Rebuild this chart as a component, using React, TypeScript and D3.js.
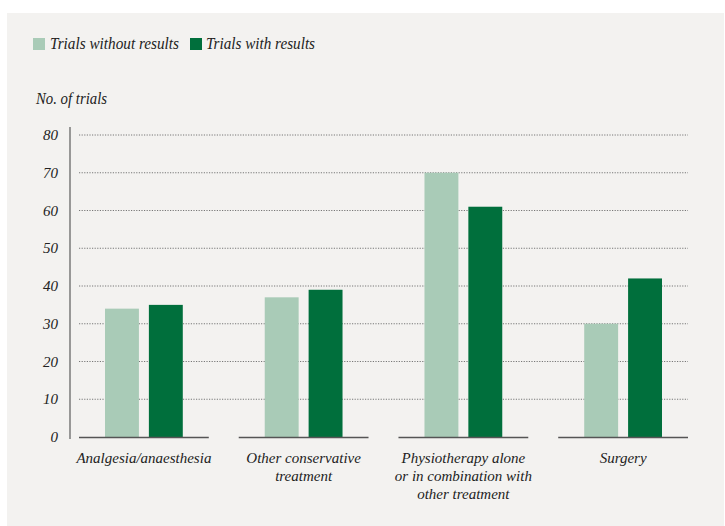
import React from "react";
import * as d3 from "d3";

const categories: string[][] = [
  ["Analgesia/anaesthesia"],
  ["Other conservative", "treatment"],
  ["Physiotherapy alone", "or in combination with", "other treatment"],
  ["Surgery"],
];
const seriesNames = ["Trials without results", "Trials with results"];
const withoutResults = [34, 37, 70, 30];
const withResults = [35, 39, 61, 42];
const yTicks = [0, 10, 20, 30, 40, 50, 60, 70, 80];
const yLabel = "No. of trials";

const COLORS = ["#a9cbb7", "#006f3c"];
const FONT = "'Liberation Serif', serif";

export default function App() {
  const W = 725, H = 526;
  const plotLeft = 79, plotRight = 688;
  const y = d3.scaleLinear().domain([0, 80]).range([437, 135]);
  const x0 = d3
    .scaleBand<number>()
    .domain(categories.map((_, i) => i))
    .range([plotLeft, plotRight])
    .paddingInner(30 / 160)
    .paddingOuter(0);
  const groupW = x0.bandwidth();
  const x1 = d3.scaleBand<number>().domain([0, 1]).range([26, groupW - 26]).paddingInner(10 / 44);
  const series = [withoutResults, withResults];

  return (
    <svg width={W} height={H} style={{ position: "absolute", left: 0, top: 0 }}>
      <rect x={7} y={13} width={717} height={H - 13} fill="#f3f2f0" />
      {/* legend */}
      <g fontFamily={FONT} fontStyle="italic" fontSize={16} fill="#222">
        <rect x={33} y={38} width={12} height={12} fill={COLORS[0]} />
        <text x={50} y={49} textLength={129} lengthAdjust="spacingAndGlyphs">{seriesNames[0]}</text>
        <rect x={190} y={38} width={12} height={12} fill={COLORS[1]} />
        <text x={206} y={49} textLength={109} lengthAdjust="spacingAndGlyphs">{seriesNames[1]}</text>
        <text x={36} y={104} textLength={71} lengthAdjust="spacingAndGlyphs">{yLabel}</text>
      </g>
      {/* gridlines */}
      {yTicks.filter((t) => t > 0).map((t) => (
        <line key={t} x1={plotLeft} x2={plotRight} y1={y(t)} y2={y(t)} stroke="#777" strokeWidth={1} strokeDasharray="1.2 1.4" />
      ))}
      {/* y axis */}
      <line x1={70} x2={70} y1={127} y2={439} stroke="#666" strokeWidth={1.3} />
      {yTicks.map((t) => (
        <text key={t} x={58} y={y(t) + 5} textAnchor="end" fontFamily={FONT} fontStyle="italic" fontSize={15} fill="#222">
          {t}
        </text>
      ))}
      {/* bars */}
      {categories.map((cat, i) => {
        const gx = x0(i)!;
        return (
          <g key={i}>
            {series.map((s, j) => (
              <rect key={j} x={gx + x1(j)!} y={y(s[i])} width={x1.bandwidth()} height={y(0) - y(s[i])} fill={COLORS[j]} />
            ))}
            <line x1={gx} x2={gx + groupW} y1={y(0) + 0.5} y2={y(0) + 0.5} stroke="#555" strokeWidth={1.5} />
            <text textAnchor="middle" fontFamily={FONT} fontStyle="italic" fontSize={15} fill="#222">
              {cat.map((line, k) => (
                <tspan key={k} x={gx + groupW / 2} y={463 + k * 18}>
                  {line}
                </tspan>
              ))}
            </text>
          </g>
        );
      })}
    </svg>
  );
}
